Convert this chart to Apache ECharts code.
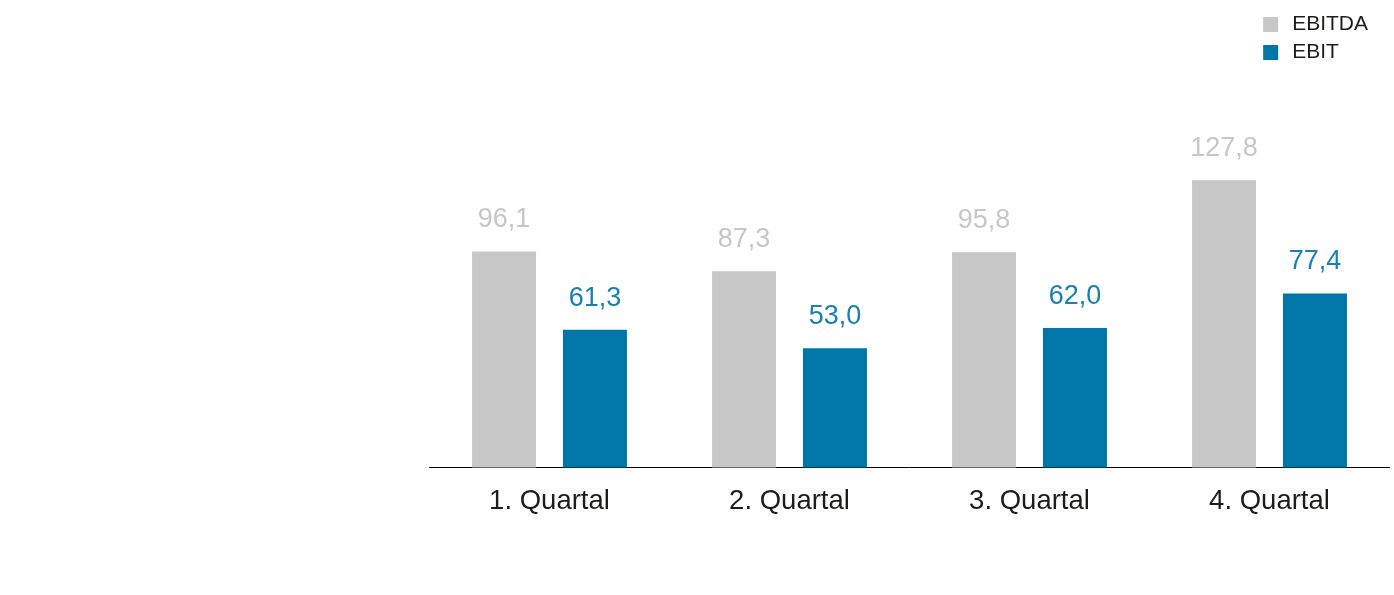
<!DOCTYPE html>
<html><head><meta charset="utf-8">
<script src="https://cdn.jsdelivr.net/npm/echarts@6/dist/echarts.min.js"></script>
<style>html,body{margin:0;padding:0;background:#fff}#c{width:1394px;height:595px}</style>
</head><body><div id="c"></div>
<script>
const categories = ['1. Quartal', '2. Quartal', '3. Quartal', '4. Quartal'];
const ebitda = [96.1, 87.3, 95.8, 127.8];
const ebit = [61.3, 53.0, 62.0, 77.4];
const seriesNames = ['EBITDA', 'EBIT'];
const FONT = '"Liberation Sans", Arial, sans-serif';
const fmt = p => p.value.toFixed(1).replace('.', ',');
const chart = echarts.init(document.getElementById('c'));
chart.setOption({
  animation: false,
  legend: {
    orient: 'vertical', right: 21, top: 9, itemWidth: 15, itemHeight: 15, itemGap: 7,
    icon: 'rect',
    textStyle: { fontFamily: FONT, fontSize: 21, color: '#1d1d1b', padding: [0,0,0,9] },
    data: seriesNames
  },
  grid: { left: 429.5, right: 4.5, top: 17.9, bottom: 127.5, containLabel: false },
  xAxis: {
    type: 'category', data: categories,
    axisLine: { lineStyle: { color: '#000', width: 1 } },
    axisTick: { show: false },
    axisLabel: { fontFamily: FONT, fontSize: 27.5, color: '#1d1d1b', margin: 20 }
  },
  yAxis: { type: 'value', min: 0, max: 200, show: false, splitLine: { show: false } },
  series: [
    { name: seriesNames[0], type: 'bar', data: ebitda, barWidth: 64, barGap: '42%',
      itemStyle: { color: '#c6c7c6' },
      label: { show: true, position: 'top', distance: 18, formatter: fmt,
        fontFamily: FONT, fontSize: 27, color: '#c6c7c6' } },
    { name: seriesNames[1], type: 'bar', data: ebit, barWidth: 64,
      itemStyle: { color: '#0077a8' },
      label: { show: true, position: 'top', distance: 18, formatter: fmt,
        fontFamily: FONT, fontSize: 27, color: '#1a80b4' } }
  ]
});
</script></body></html>
